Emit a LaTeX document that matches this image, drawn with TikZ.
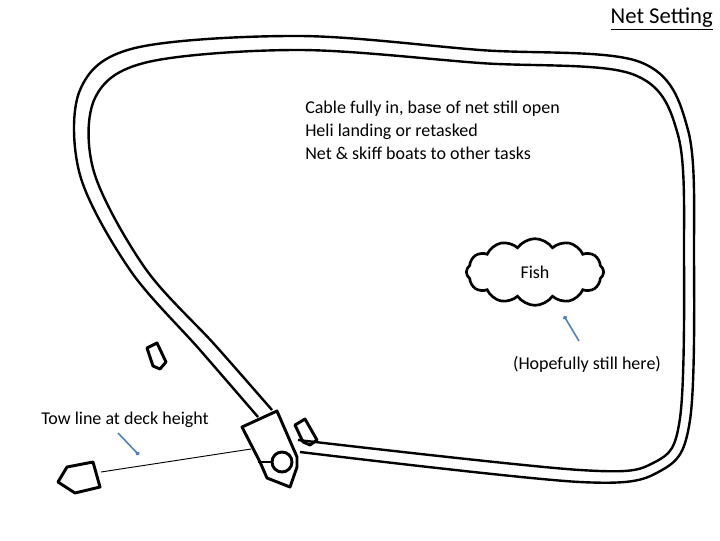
\documentclass[tikz,border=0pt]{standalone}
\usepackage{fontspec}
\setmainfont{Carlito}
\usetikzlibrary{shapes.symbols,arrows.meta}
\definecolor{ptr}{RGB}{79,129,189}
\begin{document}
\begin{tikzpicture}[x=0.75pt,y=-0.75pt,
  thick line/.style={line width=1.8pt,line join=round},
  boat/.style={line width=2.2pt,line join=round},
  txt/.style={font=\fontsize{13.5}{17}\selectfont,inner sep=0pt},
  pointer/.style={draw=ptr,line width=1.2pt,-{Circle[length=3pt]}}]
\useasboundingbox (0,0) rectangle (720,540);
% net loop
\draw[thick line] plot[smooth,tension=0.55] coordinates{(258,417) (200,350) (130,270) (80,175) (80,90) (135,48) (300,36) (480,50) (640,62) (688,130) (694,260) (690,420) (662,470) (580,482) (300,452)};
\draw[thick line] plot[smooth,tension=0.55] coordinates{(272,410) (215,345) (145,268) (94,172) (95,98) (148,62) (300,50) (480,63) (632,74) (678,135) (684,260) (680,418) (655,462) (580,470) (298,440)};
% main boat
\draw[boat] (242,427) -- (277,411) -- (297,457) -- (297,467) -- (290,487) -- (267,478) -- (260,462) -- cycle;
\node[draw,circle,boat,minimum size=15pt,inner sep=0pt] (winch) at (282,462) {};
\coordinate (wl) at (258,462);
\draw[boat] (wl) -- (winch.west);
% small boats
\draw[boat] (147,348) -- (157,343) -- (166,362) -- (160,369) -- (153,366) -- cycle;
\draw[boat] (295,425) -- (305,419) -- (317,440) -- (310,445) -- (303,442) -- cycle;
\draw[boat] (58,482) -- (67,467) -- (93,462) -- (100,487) -- (75,493) -- cycle;
% tow line
\coordinate (tl1) at (101,472);
\coordinate (tl2) at (251,449);
\draw[line width=0.7pt] (tl1) -- (tl2);
\node[txt,anchor=west] (tow) at (41,420) {Tow line at deck height};
\coordinate (tp) at (139,455);
\draw[pointer] (118,433) -- (tp);
% texts
\node[txt,anchor=north east] (title) at (713,8) {\fontsize{17}{20}\selectfont\underline{Net Setting}};
\node[txt,anchor=north west,align=left] (note) at (305,101) {Cable fully in, base of net still open\\Heli landing or retasked\\Net \& skiff boats to other tasks};
\node[cloud,draw,line width=2pt,cloud puffs=12,cloud puff arc=110,aspect=2.2,minimum width=103pt,minimum height=50pt,txt] (fish) at (535,272) {Fish};
\node[txt] (hope) at (587,364) {(Hopefully still here)};
\draw[draw=ptr,line width=1.2pt,{Circle[length=3pt]}-] (564,316) -- (579,341);
\end{tikzpicture}
\end{document}
